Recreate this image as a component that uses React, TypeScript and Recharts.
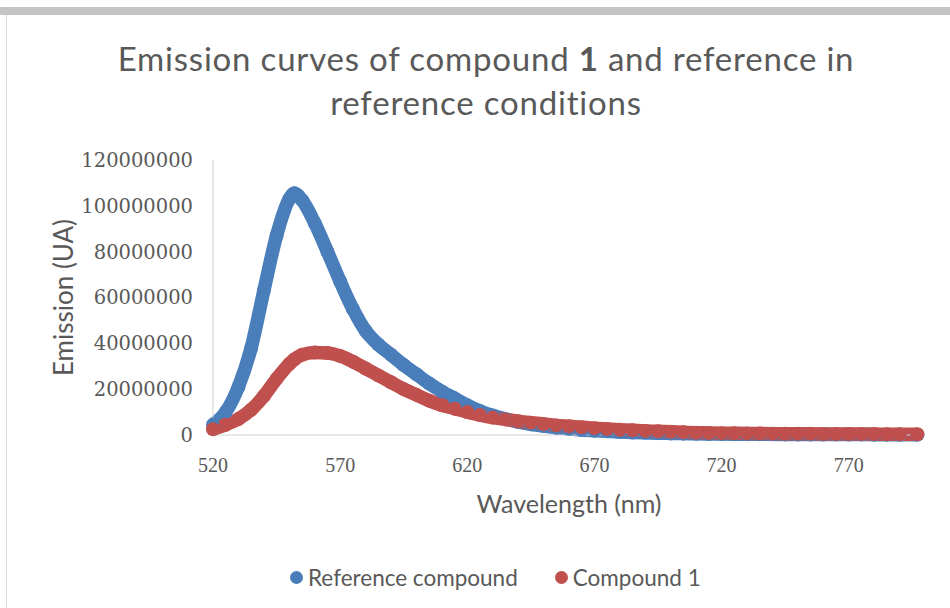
import React from 'react';
import { LineChart, Line, XAxis, YAxis, Legend } from 'recharts';

// wavelengths (nm)
const wavelengths = [
  520, 525, 530, 535, 540, 545, 550, 552, 555, 560, 565, 570, 575, 580, 585, 590, 595, 600,
  605, 610, 615, 620, 625, 630, 635, 640, 645, 650, 655, 660, 665, 670, 675, 680, 685, 690,
  695, 700, 705, 710, 715, 720, 725, 730, 735, 740, 745, 750, 755, 760, 765, 770, 775, 780,
  785, 790, 797,
];

// emission, in millions (UA)
const referenceCompound = [
  4.5, 10, 21, 38, 63, 87, 103, 105.5, 102.5, 92.5, 80, 67, 55, 45.5, 39.5, 35, 30.5, 26.5,
  22.5, 19, 16, 13, 10.5, 8.5, 7, 5.7, 4.7, 3.9, 3.2, 2.7, 2.2, 1.9, 1.6, 1.3, 1.1, 0.95,
  0.8, 0.7, 0.6, 0.5, 0.45, 0.4, 0.36, 0.33, 0.3, 0.28, 0.26, 0.24, 0.22, 0.2, 0.19, 0.18, 0.17, 0.16,
  0.15, 0.14, 0.13,
];

const compound1 = [
  2.5, 4.5, 7, 11, 17, 24.5, 31, 33, 35, 36, 35.8, 34.5, 32, 29, 26, 23, 20, 17.5,
  15, 13, 11.5, 10, 8.7, 7.6, 6.8, 6, 5.4, 4.8, 4.2, 3.8, 3.4, 3, 2.6, 2.3, 2.1, 1.8,
  1.6, 1.4, 1.2, 1, 0.9, 0.8, 0.75, 0.7, 0.65, 0.6, 0.55, 0.5, 0.5, 0.45, 0.45, 0.4, 0.4, 0.4,
  0.35, 0.35, 0.35,
];

const seriesNames = ['Reference compound', 'Compound 1'];
const xTicks = [520, 570, 620, 670, 720, 770];
const yTicks = [0, 20000000, 40000000, 60000000, 80000000, 100000000, 120000000];

const MILLION = 1000000;
const BLUE = '#4a7ebb';
const RED = '#c0504d';

const data = wavelengths.map((wl, i) => ({
  wl,
  reference: referenceCompound[i] * MILLION,
  compound: compound1[i] * MILLION,
}));

const sans = 'Lato, "Open Sans", sans-serif';

// legend drawn like the Excel one: round marker + grey text, in series order
const ChartLegend = (props: any) => {
  const items = [...(props.payload || [])].sort(
    (a: any, b: any) => seriesNames.indexOf(a.value) - seriesNames.indexOf(b.value)
  );
  return (
    <div style={{ display: 'flex', alignItems: 'center', fontFamily: sans, fontSize: 22.5, color: '#595959', whiteSpace: 'nowrap' }}>
      {items.map((entry: any, idx: number) => (
        <div key={entry.value} style={{ display: 'flex', alignItems: 'center', marginRight: idx === 0 ? 37 : 0 }}>
          <span style={{ width: 13, height: 13, borderRadius: 7, background: entry.color, display: 'inline-block', marginRight: 5 }} />
          <span>{entry.value}</span>
        </div>
      ))}
    </div>
  );
};

export default function App() {
  return (
    <div style={{ position: 'absolute', left: 0, top: 0, width: 950, height: 608, background: '#fff', overflow: 'hidden' }}>
      {/* grey frame bits of the original screenshot */}
      <div style={{ position: 'absolute', left: 0, top: 7, width: 950, height: 8, background: '#c4c4c4' }} />
      <div style={{ position: 'absolute', left: 6, top: 15, width: 1, height: 593, background: '#d9d9d9' }} />

      <div
        style={{
          position: 'absolute', left: 86, top: 36, width: 800, textAlign: 'center',
          fontFamily: sans, fontSize: 33, letterSpacing: 0.8, lineHeight: '44px', color: '#595959',
        }}
      >
        Emission curves of compound <b>1</b> and reference in
        <br />
        reference conditions
      </div>

      <div style={{ position: 'absolute', left: 0, top: 0 }}>
        <LineChart width={950} height={608} data={data} margin={{ top: 160, right: 25, left: 0, bottom: 143 }}>
          <XAxis
            dataKey="wl"
            type="number"
            domain={[520, 800]}
            ticks={xTicks}
            tickLine={false}
            tickMargin={17}
            height={30}
            axisLine={{ stroke: '#d0d0d0' }}
            tick={{ fill: '#595959', fontSize: 20, fontFamily: '"Liberation Serif", serif' }}
            label={{ value: 'Wavelength (nm)', position: 'bottom', offset: 30, fill: '#595959', fontSize: 25, fontFamily: sans }}
          />
          <YAxis
            type="number"
            domain={[0, 120000000]}
            ticks={yTicks}
            width={213}
            tickLine={false}
            tickMargin={14}
            axisLine={{ stroke: '#d0d0d0' }}
            tickFormatter={(v: number) => String(v)}
            tick={{ fill: '#595959', fontSize: 19.5, fontFamily: '"DejaVu Serif", serif' }}
            label={{
              value: 'Emission (UA)', angle: -90, position: 'insideLeft', offset: 64,
              fill: '#595959', fontSize: 26, fontFamily: sans, style: { textAnchor: 'middle' },
            }}
          />
          <Legend
            content={<ChartLegend />}
            wrapperStyle={{ position: 'absolute', left: 290, top: 564, width: 'auto', height: 0, overflow: 'visible' }}
          />
          <Line
            name={seriesNames[0]}
            dataKey="reference"
            type="monotone"
            stroke={BLUE}
            strokeWidth={13.5}
            dot={{ r: 7, fill: BLUE, stroke: 'none' }}
            activeDot={false}
            isAnimationActive={false}
          />
          <Line
            name={seriesNames[1]}
            dataKey="compound"
            type="monotone"
            stroke={RED}
            strokeWidth={13.5}
            dot={{ r: 7, fill: RED, stroke: 'none' }}
            activeDot={false}
            isAnimationActive={false}
          />
        </LineChart>
      </div>
    </div>
  );
}
